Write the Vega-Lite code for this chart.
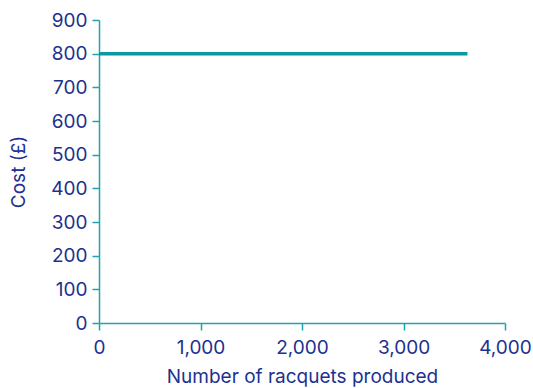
{
  "$schema": "https://vega.github.io/schema/vega-lite/v6.json",
  "autosize": "none",
  "width": 406,
  "height": 303,
  "padding": {"left": 99, "top": 20, "right": 28, "bottom": 65},
  "background": "white",
  "config": {
    "view": {"stroke": null},
    "axis": {
      "grid": false,
      "domainColor": "#1fa3ad",
      "tickColor": "#1fa3ad",
      "domainWidth": 1.5,
      "tickWidth": 1.5,
      "tickSize": 7,
      "labelFont": "Inter",
      "labelFontSize": 19,
      "labelColor": "#1c3190",
      "titleFont": "Inter",
      "titleFontSize": 19,
      "titleFontWeight": "normal",
      "titleColor": "#1c3190"
    }
  },
  "data": {"values": [
    {"racquets": 0, "cost": 800},
    {"racquets": 3630, "cost": 800}
  ]},
  "mark": {"type": "line", "color": "#0a98a3", "strokeWidth": 3.5},
  "encoding": {
    "x": {
      "field": "racquets", "type": "quantitative",
      "scale": {"domain": [0, 4000], "nice": false},
      "axis": {"values": [0, 1000, 2000, 3000, 4000], "format": ",.0f", "title": "Number of racquets produced", "labelPadding": 8, "titlePadding": 10, "labelFlush": false}
    },
    "y": {
      "field": "cost", "type": "quantitative",
      "scale": {"domain": [0, 900], "nice": false},
      "axis": {"values": [0, 100, 200, 300, 400, 500, 600, 700, 800, 900], "title": "Cost (£)", "labelPadding": 5, "titlePadding": 22, "labelFlush": false}
    }
  }
}
